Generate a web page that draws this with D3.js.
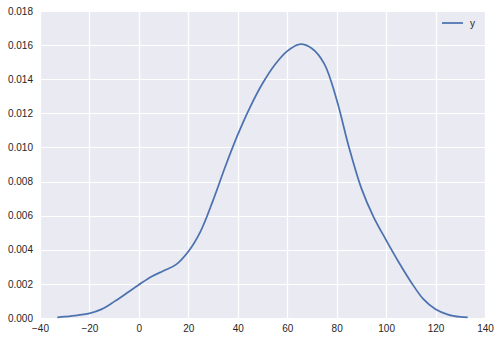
<!DOCTYPE html>
<html>
<head>
<meta charset="utf-8">
<script src="https://cdn.jsdelivr.net/npm/d3@7"></script>
<style>
    body { margin: 0; background: #fff; }
    text { font-family: "Liberation Sans", Arial, sans-serif; }
</style>
</head>
<body>
<svg id="chart" width="499" height="341"></svg>
<script>
// kde curve (x, density)
let xValues = [-33, -30, -25, -20, -15, -10, -5, 0, 5, 10, 15, 20, 25, 30, 35, 40, 45, 50, 55, 60,
    65, 70, 75, 80, 85, 90, 95, 100, 105, 110, 115, 120, 125, 130, 133]
let yValues = [0.00004, 0.00008, 0.00016, 0.00027, 0.00052, 0.00096, 0.00145, 0.00195, 0.00242, 0.00277,
    0.00313, 0.0039, 0.0051, 0.0069, 0.0089, 0.01075, 0.01237, 0.01375, 0.01485, 0.01565,
    0.01605, 0.0158, 0.0149, 0.0128, 0.0100, 0.0076, 0.0059, 0.00457, 0.0033, 0.00213,
    0.00112, 0.00051, 0.00020, 0.00006, 0.00003]
let xTicks = [-40, -20, 0, 20, 40, 60, 80, 100, 120, 140]
let yTicks = [0, 0.002, 0.004, 0.006, 0.008, 0.010, 0.012, 0.014, 0.016, 0.018]
let seriesName = "y"

let width = 499
let height = 341
let padding = {
    left : 40,
    right : 14,
    top : 11,
    bottom : 23
}

let svg = d3.select("#chart")

let xScale = d3.scaleLinear().domain([-40, 140]).range([padding.left, width - padding.right])
let yScale = d3.scaleLinear().domain([0, 0.018]).range([height - padding.bottom, padding.top])

// grey background for the plot area
svg.append("rect")
    .attr("x", padding.left)
    .attr("y", padding.top)
    .attr("width", width - padding.left - padding.right)
    .attr("height", height - padding.top - padding.bottom)
    .attr("fill", "#EAEAF2")

// white grid lines
svg.append("g")
    .selectAll("line")
    .data(xTicks)
    .enter().append("line")
    .attr("x1", d => Math.round(xScale(d)) + 0.5)
    .attr("x2", d => Math.round(xScale(d)) + 0.5)
    .attr("y1", padding.top)
    .attr("y2", height - padding.bottom)
    .attr("stroke", "#fff")
    .attr("stroke-width", 1.2)
svg.append("g")
    .selectAll("line")
    .data(yTicks)
    .enter().append("line")
    .attr("x1", padding.left)
    .attr("x2", width - padding.right)
    .attr("y1", d => Math.round(yScale(d)) + 0.5)
    .attr("y2", d => Math.round(yScale(d)) + 0.5)
    .attr("stroke", "#fff")
    .attr("stroke-width", 1.2)

// axes, only the labels are shown
let xAxis = d3.axisBottom().scale(xScale).tickValues(xTicks).tickSize(0).tickPadding(7)
let yAxis = d3.axisLeft().scale(yScale).tickValues(yTicks).tickSize(0).tickPadding(7)
    .tickFormat(d3.format(".3f"))
let gx = svg.append("g")
    .attr("transform", `translate(0, ${height - padding.bottom})`)
    .call(xAxis)
let gy = svg.append("g")
    .attr("transform", `translate(${padding.left}, 0)`)
    .call(yAxis)
for (let g of [gx, gy]) {
    g.select(".domain").remove()
    g.selectAll("text").attr("font-size", 10).attr("fill", "#262626")
        .attr("font-family", "Liberation Sans, Arial, sans-serif")
}

// the density line
let line = d3.line()
    .x(function(d, i) { return xScale(xValues[i]) })
    .y(function(d, i) { return yScale(yValues[i]) })
    .curve(d3.curveCatmullRom.alpha(0.5))
svg.append("path")
    .datum(yValues)
    .attr("d", line)
    .attr("fill", "none")
    .attr("stroke", "#4C72B0")
    .attr("stroke-width", 1.75)

// legend
svg.append("line")
    .attr("x1", 442).attr("x2", 463)
    .attr("y1", 23).attr("y2", 23)
    .attr("stroke", "#4C72B0")
    .attr("stroke-width", 1.75)
svg.append("text")
    .attr("x", 470)
    .attr("y", 27)
    .attr("font-size", 10)
    .attr("fill", "#262626")
    .text(seriesName)
</script>
</body>
</html>
